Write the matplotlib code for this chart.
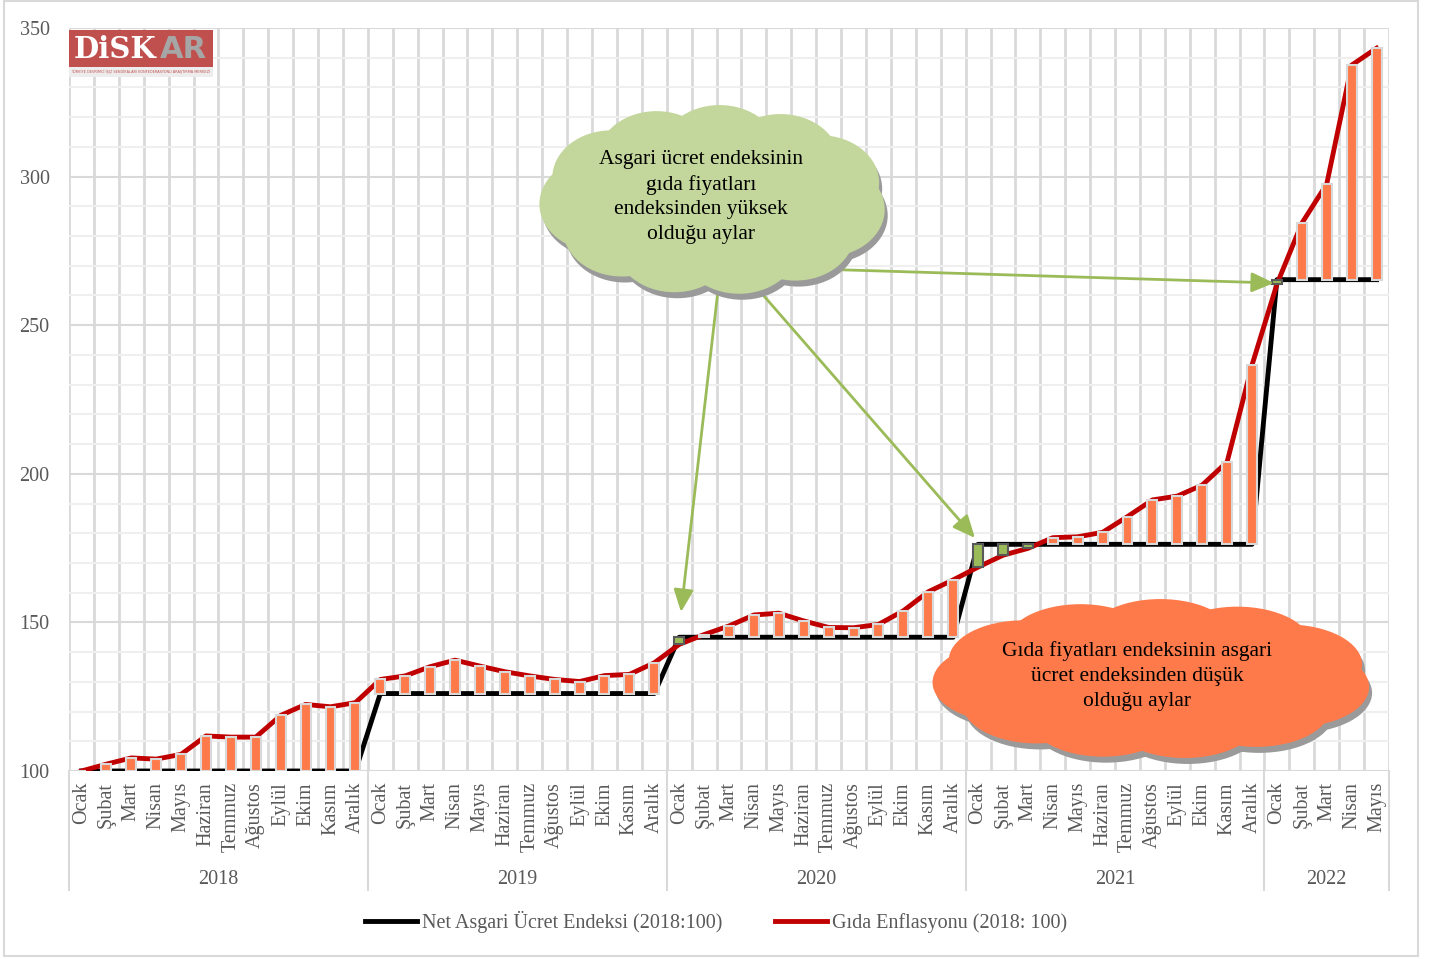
import numpy as np
import matplotlib.pyplot as plt
from matplotlib.patches import Ellipse, Rectangle

# veriler (2018 Ocak = 100)
aylar = ['Ocak', 'Şubat', 'Mart', 'Nisan', 'Mayıs', 'Haziran', 'Temmuz',
         'Ağustos', 'Eylül', 'Ekim', 'Kasım', 'Aralık']
yillar = ['2018', '2019', '2020', '2021', '2022']
ay_sayisi = [12, 12, 12, 12, 5]

asgari_ucret = [100.0] * 12 + [126.06] * 12 + [145.01] * 12 + [176.27] * 12 + [265.32] * 5

gida = [100.0, 102.3, 104.4, 104.0, 105.6, 111.8, 111.4, 111.4, 118.7, 122.4, 121.6, 123.0,
        130.8, 132.0, 135.1, 137.3, 135.3, 133.4, 132.0, 130.8, 130.1, 132.1, 132.5, 136.4,
        142.6, 145.9, 148.8, 152.5, 153.1, 150.5, 148.3, 148.2, 149.3, 153.9, 160.3, 164.3,
        168.6, 172.6, 174.9, 178.5, 178.8, 180.3, 185.6, 191.2, 192.5, 196.2, 204.0, 236.6,
        263.8, 284.3, 297.5, 337.5, 343.2]

W, H = 1432, 959
GRI = '#595959'
TURUNCU = '#FF7A4A'
YESIL = '#9BBB59'

plt.rcParams['font.family'] = ['Liberation Serif', 'DejaVu Serif']

fig = plt.figure(figsize=(W / 100, H / 100), dpi=100)
ax = fig.add_axes([69 / W, 1 - 771 / H, (1389 - 69) / W, (771 - 28) / H])

x = np.arange(len(gida))
ucret = np.array(asgari_ucret)
gd = np.array(gida)
etiketler = [aylar[i] for n in ay_sayisi for i in range(n)]

ax.set_xlim(-0.5, len(gida) - 0.5)
ax.set_ylim(100, 350)

# izgara
ax.set_xticks(np.arange(-0.5, len(gida), 1), minor=True)
ax.set_yticks(np.arange(100, 351, 50))
ax.set_yticks(np.arange(100, 351, 10), minor=True)
ax.grid(which='minor', axis='x', color='#D9D9D9', lw=2)
ax.grid(which='major', axis='y', color='#D9D9D9', lw=1.5)
ax.grid(which='minor', axis='y', color='#EFEFEF', lw=1.5)
ax.set_axisbelow(True)
for s in ax.spines.values():
    s.set_visible(False)

ax.set_xticks(x)
ax.set_xticklabels(etiketler, rotation=90, fontsize=14.5, color=GRI)
ax.tick_params(which='both', length=0)
ax.tick_params(axis='x', pad=8)
ax.tick_params(axis='y', pad=14, labelsize=14.5, labelcolor=GRI)

# yil etiketleri ve ayiricilar
tr = ax.get_xaxis_transform()
bas = -0.5
for yil, n in zip(yillar, ay_sayisi):
    ax.text(bas + n / 2, -0.1454, yil, transform=tr, ha='center', va='center',
            fontsize=14.5, color=GRI)
    bas += n
for b in np.cumsum([0] + ay_sayisi) - 0.5:
    ax.plot([b, b], [0, -0.16], transform=tr, color='#D9D9D9', lw=1.5, clip_on=False)

# cizgiler
l1, = ax.plot(x, ucret, color='black', lw=3.5, zorder=2)
l2, = ax.plot(x, gd, color='#C00000', lw=3.5, zorder=3)

# artis/azalis cubuklari
fark = gd - ucret
renk = np.where(fark >= 0, TURUNCU, YESIL)
kenar = np.where(fark >= 0, '#D9D9D9', GRI)
ax.bar(x, fark, bottom=ucret, width=0.4, color=renk, edgecolor=kenar, linewidth=1.5, zorder=4)

fig.legend([l1, l2], ['Net Asgari Ücret Endeksi (2018:100)', 'Gıda Enflasyonu (2018: 100)'],
           loc='center', bbox_to_anchor=(716 / W, 1 - 922 / H), ncol=2, frameon=False,
           fontsize=14.5, handlelength=2.6, handletextpad=0.25, columnspacing=2.6,
           labelcolor=GRI)

# ust katman (piksel koordinatlari)
ov = fig.add_axes([0, 0, 1, 1])
ov.set_xlim(0, W)
ov.set_ylim(H, 0)
ov.axis('off')
ov.patch.set_alpha(0)


def bulut(cx, cy, rx, ry, renk):
    n = 11
    aci = np.linspace(0, 2 * np.pi, n, endpoint=False) + 0.2
    lrx, lry = rx * 0.34, ry * 0.5
    for dx, dy, c, z in [(3, 6, '#9A9A9A', 2), (0, 0, renk, 3)]:
        ov.add_patch(Ellipse((cx + dx, cy + dy), 2 * (rx - lrx * 0.4), 2 * (ry - lry * 0.4),
                             color=c, zorder=z, lw=0))
        for a in aci:
            ov.add_patch(Ellipse((cx + dx + (rx - lrx) * np.cos(a), cy + dy + (ry - lry) * np.sin(a)),
                                 2 * lrx, 2 * lry, color=c, zorder=z, lw=0))


ok = dict(arrowstyle='-|>,head_length=0.9,head_width=0.4', color=YESIL, lw=2,
          shrinkA=0, shrinkB=0, mutation_scale=15)
ov.annotate('', xy=(681, 612), xytext=(718, 290), arrowprops=ok, zorder=1)
ov.annotate('', xy=(975, 538), xytext=(750, 280), arrowprops=ok, zorder=1)
ov.annotate('', xy=(1274, 283), xytext=(815, 269), arrowprops=ok, zorder=1)

bulut(713, 200, 174, 95, '#C3D69B')
ov.text(701, 197, 'Asgari ücret endeksinin\ngıda fiyatları\nendeksinden yüksek\nolduğu aylar',
        ha='center', va='center', fontsize=15.5, linespacing=1.4, zorder=5)

bulut(1152, 679, 220, 80, TURUNCU)
ov.text(1137, 676, 'Gıda fiyatları endeksinin asgari\nücret endeksinden düşük\nolduğu aylar',
        ha='center', va='center', fontsize=15.5, linespacing=1.4, zorder=5)

# logo
ov.add_patch(Rectangle((69, 30), 144, 37, color='#C0504D', zorder=5, lw=0))
ov.add_patch(Rectangle((69, 67), 144, 10, color='#EDEDED', zorder=5, lw=0))
ov.text(74, 49, 'DiSK', color='white', fontsize=21, fontweight='bold', family='DejaVu Serif',
        va='center', ha='left', zorder=6)
ov.text(160, 49, 'AR', color='#A6A6A6', fontsize=22, fontweight='bold', family='DejaVu Sans',
        va='center', ha='left', zorder=6)
ov.text(141, 72, 'TÜRKİYE DEVRİMCİ İŞÇİ SENDİKALARI KONFEDERASYONU ARAŞTIRMA MERKEZİ',
        color='#C0504D', fontsize=2.5, family='DejaVu Sans', ha='center', va='center', zorder=6)

# cerceve
ov.add_patch(Rectangle((4, 1), 1414, 955, fill=False, edgecolor='#D9D9D9', lw=1.5, zorder=6))

fig.savefig('out.png', dpi=100)
